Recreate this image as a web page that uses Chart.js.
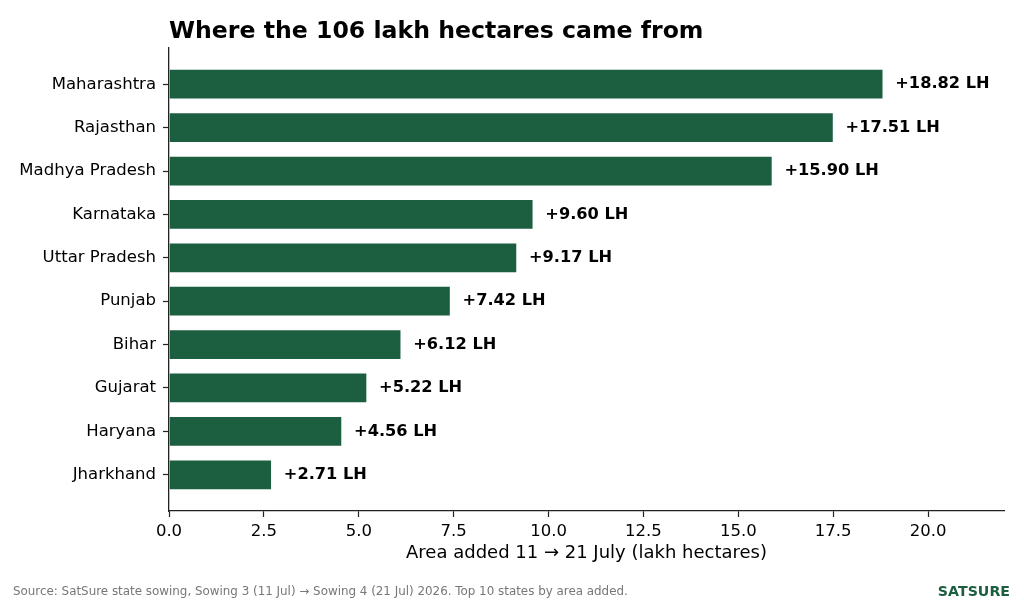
<!DOCTYPE html>
<html>
<head>
<meta charset="utf-8">
<script src="https://cdn.jsdelivr.net/npm/chart.js@4.4.1/dist/chart.umd.min.js"></script>
<style>
html,body{margin:0;padding:0;background:#fff;}
#wrap{width:1024px;height:604px;position:relative;}
</style>
</head>
<body>
<div id="wrap"><canvas id="c" width="1024" height="604"></canvas></div>
<script>
const states = ["Maharashtra","Rajasthan","Madhya Pradesh","Karnataka","Uttar Pradesh","Punjab","Bihar","Gujarat","Haryana","Jharkhand"];
const areaAdded = [18.82,17.51,15.90,9.60,9.17,7.42,6.12,5.22,4.56,2.71];
const xTicks = [0,2.5,5,7.5,10,12.5,15,17.5,20];
const titleText = "Where the 106 lakh hectares came from";
const xTitle = "Area added 11 \u2192 21 July (lakh hectares)";
const sourceText = "Source: SatSure state sowing, Sowing 3 (11 Jul) \u2192 Sowing 4 (21 Jul) 2026. Top 10 states by area added.";
const brand = "SATSURE";

const FONT = "'DejaVu Sans', sans-serif";
const GREEN = "#1b5e40";

const extras = {
  id: 'extras',
  afterDatasetsDraw(chart) {
    const ctx = chart.ctx;
    const meta = chart.getDatasetMeta(0);
    ctx.save();
    ctx.font = "bold 16.2px " + FONT;
    ctx.fillStyle = "#000";
    ctx.textAlign = "left";
    ctx.textBaseline = "middle";
    meta.data.forEach((el, i) => {
      ctx.fillText("+" + areaAdded[i].toFixed(2) + " LH", el.x + 12, el.y);
    });
    ctx.restore();
  },
  afterDraw(chart) {
    const ctx = chart.ctx;
    const ca = chart.chartArea;
    ctx.save();
    ctx.fillStyle = "#000";
    ctx.font = "bold 23.6px " + FONT;
    ctx.textAlign = "left";
    ctx.textBaseline = "alphabetic";
    ctx.fillText(titleText, ca.left, 38);
    ctx.font = "18px " + FONT;
    ctx.textAlign = "center";
    ctx.textBaseline = "middle";
    ctx.fillText(xTitle, (ca.left + ca.right) / 2, 553);
    ctx.font = "11.9px " + FONT;
    ctx.fillStyle = "#777";
    ctx.textAlign = "left";
    ctx.fillText(sourceText, 13, 592);
    ctx.font = "bold 14.2px " + FONT;
    ctx.fillStyle = GREEN;
    ctx.textAlign = "right";
    ctx.fillText(brand, 1010, 592);
    ctx.restore();
  }
};

new Chart(document.getElementById('c'), {
  type: 'bar',
  data: {
    datasets: [{
      data: areaAdded.map((v, i) => ({x: v, y: i})),
      backgroundColor: GREEN,
      borderColor: "rgba(255,255,255,0.55)",
      borderWidth: 0.8,
      barPercentage: 0.7,
      categoryPercentage: 1.0
    }]
  },
  options: {
    indexAxis: 'y',
    responsive: false,
    animation: false,
    devicePixelRatio: 1,
    layout: {padding: {top: 48, right: 20, left: 0, bottom: 0}},
    plugins: {legend: {display: false}, tooltip: {enabled: false}},
    scales: {
      y: {
        type: 'linear',
        reverse: true,
        offset: false,
        min: -0.835,
        max: 9.835,
        afterBuildTicks: (s) => { s.ticks = states.map((_, i) => ({value: i})); },
        afterFit: (s) => { s.width = 169; },
        ticks: {
          callback: (v) => states[v],
          font: {family: FONT, size: 16.5},
          color: "#000",
          padding: 7,
          autoSkip: false
        },
        grid: {display: true, offset: false, drawOnChartArea: false, tickLength: 6, tickColor: "#222", tickWidth: 1.2},
        border: {display: true, color: "#222", width: 1.3}
      },
      x: {
        type: 'linear',
        min: 0,
        max: 22,
        offset: false,
        afterBuildTicks: (s) => { s.ticks = xTicks.map(v => ({value: v})); },
        afterFit: (s) => { s.height = 93; },
        ticks: {
          callback: (v) => Number(v).toFixed(1),
          font: {family: FONT, size: 16.5},
          color: "#000",
          padding: 5,
          maxRotation: 0,
          autoSkip: false
        },
        grid: {display: true, drawOnChartArea: false, tickLength: 6, tickColor: "#222", tickWidth: 1.2},
        border: {display: true, color: "#222", width: 1.3}
      }
    }
  },
  plugins: [extras]
});
</script>
</body>
</html>
